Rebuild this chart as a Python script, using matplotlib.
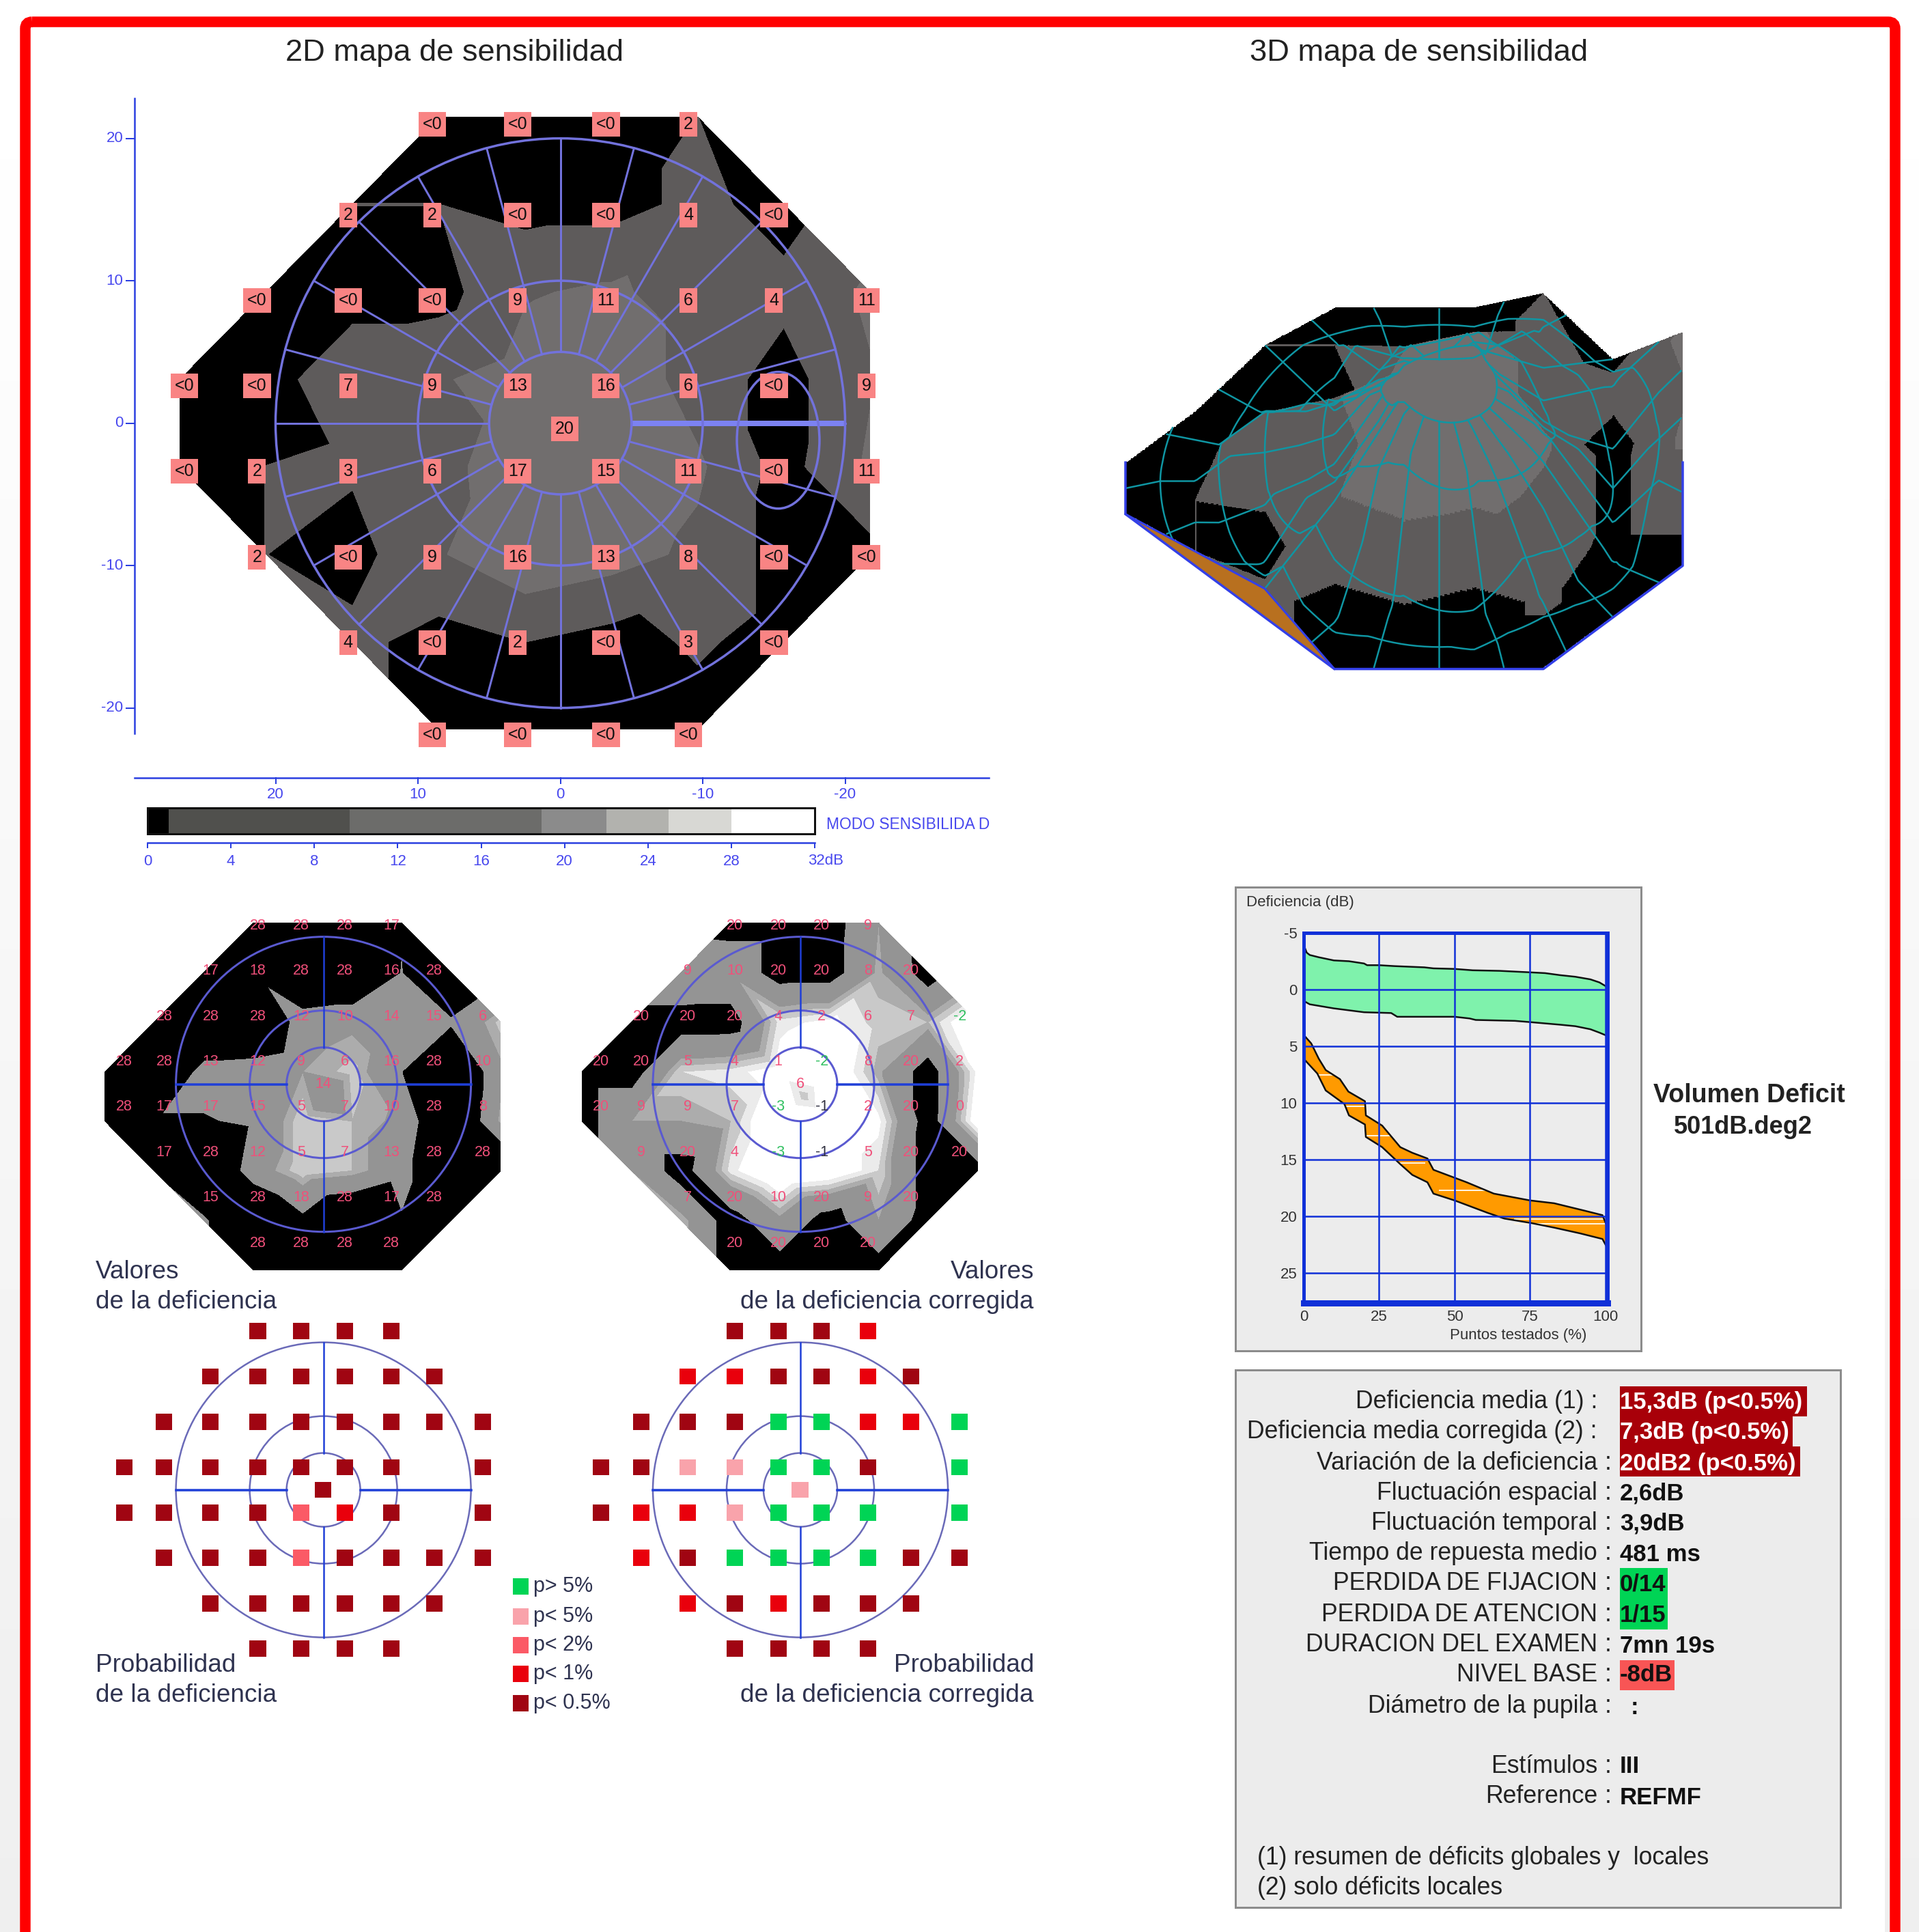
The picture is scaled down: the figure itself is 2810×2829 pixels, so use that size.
import numpy as np
import matplotlib
matplotlib.use('Agg')
import matplotlib.pyplot as plt
import matplotlib.tri as mtri
from matplotlib.colors import BoundaryNorm, ListedColormap
from matplotlib.patches import Circle, Ellipse, Rectangle, FancyBboxPatch

W, H = 2810, 2829
DPI = 100

# test points, one list per row, top row first (x in degrees, positive on the left)
row_y = [21, 15, 9, 3, -3, -9, -15, -21]
row_x = [
    [9, 3, -3, -9],
    [15, 9, 3, -3, -9, -15],
    [21, 15, 9, 3, -3, -9, -15, -21],
    [27, 21, 15, 9, 3, -3, -9, -15, -21],
    [27, 21, 15, 9, 3, -3, -9, -15, -21],
    [21, 15, 9, 3, -3, -9, -15, -21],
    [15, 9, 3, -3, -9, -15],
    [9, 3, -3, -9],
]
# -1 means "<0" on the sensitivity map
sensitivity = [
    [-1, -1, -1, 2],
    [2, 2, -1, -1, 4, -1],
    [-1, -1, -1, 9, 11, 6, 4, 11],
    [-1, -1, 7, 9, 13, 16, 6, -1, 9],
    [-1, 2, 3, 6, 17, 15, 11, -1, 11],
    [2, -1, 9, 16, 13, 8, -1, -1],
    [4, -1, 2, -1, 3, -1],
    [-1, -1, -1, -1],
]
sensitivity_center = 20
deficit = [
    [28, 28, 28, 17],
    [17, 18, 28, 28, 16, 28],
    [28, 28, 28, 12, 10, 14, 15, 6],
    [28, 28, 13, 12, 9, 6, 16, 28, 10],
    [28, 17, 17, 15, 5, 7, 10, 28, 8],
    [17, 28, 12, 5, 7, 13, 28, 28],
    [15, 28, 18, 28, 17, 28],
    [28, 28, 28, 28],
]
deficit_center = 14
corrected = [
    [20, 20, 20, 9],
    [9, 10, 20, 20, 8, 20],
    [20, 20, 20, 4, 2, 6, 7, -2],
    [20, 20, 5, 4, 1, -2, 8, 20, 2],
    [20, 9, 9, 7, -3, -1, 2, 20, 0],
    [9, 20, 4, -3, -1, 5, 20, 20],
    [7, 20, 10, 20, 9, 20],
    [20, 20, 20, 20],
]
corrected_center = 6

# probability classes: 0 p>5, 1 p<5, 2 p<2, 3 p<1, 4 p<0.5, None for the blind spot
prob_deficit = [
    [4, 4, 4, 4],
    [4, 4, 4, 4, 4, 4],
    [4, 4, 4, 4, 4, 4, 4, 4],
    [4, 4, 4, 4, 4, 4, 4, None, 4],
    [4, 4, 4, 4, 2, 3, 4, None, 4],
    [4, 4, 4, 2, 4, 4, 4, 4],
    [4, 4, 4, 4, 4, 4],
    [4, 4, 4, 4],
]
prob_deficit_center = 4
prob_corrected = [
    [4, 4, 4, 3],
    [3, 3, 4, 4, 3, 4],
    [4, 4, 4, 0, 0, 3, 3, 0],
    [4, 4, 1, 1, 0, 0, 4, None, 0],
    [4, 3, 3, 1, 0, 0, 0, None, 0],
    [3, 4, 0, 0, 0, 0, 4, 4],
    [3, 4, 3, 4, 4, 4],
    [4, 4, 4, 4],
]
prob_corrected_center = 1
prob_colors = ['#00d455', '#f9a3ab', '#fb5a66', '#e9000c', '#a00512']
prob_labels = ['p> 5%', 'p< 5%', 'p< 2%', 'p< 1%', 'p< 0.5%']

# grey scale of the sensitivity map
scale_levels = [0, 1, 9.7, 18.9, 22, 25, 28, 32]
scale_colors = ['#000000', '#50504d', '#6c6c6a', '#8b8b8b', '#b2b2ae', '#d8d8d4', '#ffffff']
field_levels = [-2, 1.95, 9.7, 20.5, 22, 25, 28, 33]
field_colors = ['#000000', '#5e5b5b', '#716e6e', '#858383', '#b2b2ae', '#d8d8d4', '#ffffff']
deficit_levels = [-6, 3, 5, 7, 9, 16.4, 30]
deficit_colors = ['#ffffff', '#ebebeb', '#c9c9c9', '#acacac', '#949494', '#000000']

# deficit curve
upper_x = [0, 1, 2, 5, 10, 15, 20, 21, 25, 30, 40, 43, 50, 56, 65, 75, 80, 85, 90, 95, 98, 100.7]
upper_y = [-3.95, -3.26, -3.05, -2.85, -2.57, -2.5, -2.3, -2.15, -2.15, -2.07, -1.96, -1.87, -1.82, -1.7, -1.65, -1.52, -1.45, -1.27, -1.13, -0.9, -0.63, -0.2]
lower_x = [0, 2, 10, 20, 29, 31, 45, 50, 55, 57, 70, 75, 85, 90, 95, 98, 100.7]
lower_y = [1.0, 1.3, 1.66, 2.0, 2.07, 2.4, 2.4, 2.4, 2.55, 2.68, 2.76, 2.87, 3.1, 3.23, 3.5, 3.8, 4.1]
def_top_x = [0, 2.5, 5, 7.3, 12, 14.8, 20.3, 20.6, 26, 32, 36, 41, 43, 50, 54, 63, 75, 83, 93, 99, 100.7]
def_top_y = [4.0, 4.75, 6.1, 7.1, 7.9, 9.0, 9.85, 11.1, 12.0, 13.9, 14.4, 14.9, 15.9, 16.6, 17, 18, 18.6, 18.85, 19.5, 19.9, 21]
def_low_x = [0, 4.5, 7.3, 13.5, 15, 20.3, 20.6, 26, 32, 36, 41, 43, 50, 61, 66.5, 75.5, 83, 91.5, 99, 100.7]
def_low_y = [6.1, 7.4, 8.9, 10.1, 11.1, 11.9, 13, 13.9, 15.4, 16.35, 17, 18, 18.6, 19.7, 20.2, 20.6, 21, 21.5, 22, 22.85]
streak_x0 = [5, 14, 21, 32, 45, 70, 70]
streak_x1 = [10, 20, 29, 40, 60, 100, 100]
streak_y = [7.5, 10.3, 12.9, 15.3, 17.7, 20.25, 20.65]

# summary table
info_labels = ['Deficiencia media (1) :', 'Deficiencia media corregida (2) :', 'Variación de la deficiencia',
               'Fluctuación espacial', 'Fluctuación temporal', 'Tiempo de repuesta medio', 'PERDIDA DE FIJACION',
               'PERDIDA DE ATENCION', 'DURACION DEL EXAMEN', 'NIVEL BASE', 'Diámetro de la pupila',
               'Estímulos', 'Reference']
info_values = ['15,3dB (p<0.5%)', '7,3dB (p<0.5%)', '20dB2 (p<0.5%)', '2,6dB', '3,9dB', '481 ms', '0/14', '1/15',
               '7mn 19s', '-8dB', ':', 'III', 'REFMF']
info_y = [2053, 2097, 2142, 2186, 2230, 2275, 2319, 2364, 2409, 2452, 2499, 2586, 2631]

plt.rcParams['font.family'] = ['Liberation Sans', 'DejaVu Sans']
BLUE_TXT = '#4848ee'
BLUE_AX = '#2a3fe0'
NAVY = '#2f3350'

# where the small panels really put the columns
col_grid = [-21, -15, -9, -3, 3, 9, 15, 21, 27]
col_small = [-21.6, -15, -9.2, -2.9, 3, 8.9, 15.3, 21.6, 27]


def lw(n):
    return n * 72.0 / DPI


def flat(rows, center):
    xs = [0.0]
    ys = [0.0]
    vals = [center]
    for y, xrow, vrow in zip(row_y, row_x, rows):
        for x, v in zip(xrow, vrow):
            xs.append(x)
            ys.append(y)
            vals.append(v)
    return np.array(xs, float), np.array(ys, float), vals


def add_px_axes(x0, y0, w, h):
    ax = fig.add_axes([x0 / W, 1 - (y0 + h) / H, w / W, h / H])
    return ax


def map_axes(cx, cy, scale, half):
    ax = add_px_axes(cx - half * scale, cy - half * scale, 2 * half * scale, 2 * half * scale)
    ax.set_xlim(half, -half)
    ax.set_ylim(-half, half)
    ax.axis('off')
    ax.patch.set_alpha(0)
    return ax


def rings(ax, radii, color, width):
    for r in radii:
        ax.add_patch(Circle((0, 0), r, fill=False, ec=color, lw=lw(width), zorder=3))


fig = plt.figure(figsize=(W / DPI, H / DPI), dpi=DPI, facecolor='white')
page = fig.add_axes([0, 0, 1, 1])
page.axis('off')

# outer frame, the page behind it fades to light grey downwards
shade = np.linspace(1.0, 0.935, 256).reshape(-1, 1)
for x0, x1 in [(0, 30), (2783, W), (2760, 2767)]:
    page.imshow(shade, extent=(x0, x1, H, 60), cmap='gray', vmin=0, vmax=1, aspect='auto')
page.set_xlim(0, W)
page.set_ylim(H, 0)
page.add_patch(FancyBboxPatch((37, 32), 2738, 3000, boxstyle='round,pad=0,rounding_size=10', fc='none', ec='#ff0000', lw=lw(15.5)))

page.text(666, 77, '2D mapa de sensibilidad', fontsize=32.6, ha='center', va='center', color='#222222')
page.text(2078, 77, '3D mapa de sensibilidad', fontsize=32.6, ha='center', va='center', color='#222222')

# ---- 2D sensitivity map ----
px, py, pv = flat(sensitivity, sensitivity_center)
pv = np.array(pv, float)
cx, cy, scale = 820.5, 619.6, 20.85
ax = map_axes(cx, cy, scale, 34)
tri = mtri.Triangulation(1.0094 * px - 0.55, py * 1.024)
ax.tricontourf(tri, pv, levels=field_levels, colors=field_colors, zorder=1)

angles = np.deg2rad(np.arange(0, 360, 15))
for a in angles:
    ax.plot([5 * np.cos(a), 20 * np.cos(a)], [5 * np.sin(a), 20 * np.sin(a)], color='#7272dc', lw=lw(3), zorder=3)
ax.plot([-5, -20], [0, 0], color='#7c82f2', lw=lw(8), zorder=3, solid_capstyle='butt')
rings(ax, [5, 10, 20], '#7272dc', 3.5)
ax.add_patch(Ellipse((-15.3, -1.2), 5.8, 9.6, fill=False, ec='#7272dc', lw=lw(3.5), zorder=3))

label_x_px = [-21.5, -15, -9, -3.2, 3, 9, 14.9, 21.3, 26.4]
label_y_px = [21.0, 14.6, 8.6, 2.6, -3.4, -9.4, -15.4, -21.9]
box = dict(boxstyle='square,pad=0.24', fc='#f98484', ec='none')
for lab_y, xrow, vrow in zip(label_y_px, row_x, sensitivity):
    for x, v in zip(xrow, vrow):
        ax.text(np.interp(x, col_grid, label_x_px), lab_y, '<0' if v < 0 else str(v), fontsize=18, ha='center',
                va='center', color='#111111', zorder=5, bbox=box)
ax.text(-0.3, -0.4, str(sensitivity_center), fontsize=18, ha='center', va='center', color='#111111', zorder=5, bbox=box)

# axes of the map
ax.plot([29.9, 29.9], [22.8, -21.8], color=BLUE_AX, lw=lw(2.5), clip_on=False)
ax.plot([29.9, -30.1], [-24.9, -24.9], color=BLUE_AX, lw=lw(2.5), clip_on=False)
for t in [20, 10, 0, -10, -20]:
    ax.plot([29.9, 30.5], [t, t], color=BLUE_AX, lw=lw(2))
    ax.text(30.7, t, str(t), fontsize=16, color=BLUE_TXT, ha='right', va='center')
    ax.plot([t, t], [-24.9, -25.3], color=BLUE_AX, lw=lw(2))
    ax.text(t, -26.1, str(t), fontsize=16, color=BLUE_TXT, ha='center', va='center')

# grey scale bar
bar = add_px_axes(216, 1183, 977, 38)
bar.set_xlim(0, 32)
bar.set_ylim(0, 1)
bar.barh(0.5, np.diff(scale_levels), left=scale_levels[:-1], height=1, color=scale_colors)
bar.set_yticks([])
bar.set_xticks([])
for s in bar.spines.values():
    s.set_linewidth(lw(3))
    s.set_color('#111111')
sec = bar.secondary_xaxis(-0.34)
sec.set_xticks(np.arange(0, 33, 4))
sec.set_xticklabels(['0', '4', '8', '12', '16', '20', '24', '28', ''], fontsize=16, color=BLUE_TXT)
sec.tick_params(axis='x', colors=BLUE_AX, length=6, width=lw(2), labelcolor=BLUE_TXT, pad=6)
sec.spines['bottom'].set_color(BLUE_AX)
sec.spines['bottom'].set_linewidth(lw(2.5))
page.text(1183, 1260, '32dB', fontsize=16, color=BLUE_TXT, ha='left', va='center')
page.text(1210, 1207, 'MODO SENSIBILIDA D', fontsize=16.4, color=BLUE_TXT, ha='left', va='center')

# ---- 3D view ----
c3x, c3y, sx, sy, sz = 2107.0, 715.0, 17.0, 12.6, 10.5


def project(x, y, z):
    return c3x - sx * np.asarray(x), c3y - sy * np.asarray(y) - sz * np.asarray(z)


ax3 = add_px_axes(1600, 380, 900, 640)
ax3.set_xlim(1600, 2500)
ax3.set_ylim(1020, 380)
ax3.axis('off')
ax3.patch.set_alpha(0)

height = np.clip(pv, 0, None)
tri3 = mtri.Triangulation(px, py)
surf = mtri.LinearTriInterpolator(tri3, height)
sens_surf = mtri.LinearTriInterpolator(tri3, pv)
gx, gy = np.meshgrid(np.linspace(27, -21, 620), np.linspace(21, -21, 420))
gz = surf(gx, gy)
gs = sens_surf(gx, gy)
PX, PY = project(gx, gy, gz.filled(0))
outside = np.ma.getmaskarray(gz)
cell_out = outside[:-1, :-1] | outside[1:, :-1] | outside[:-1, 1:] | outside[1:, 1:]
cells = np.ma.array(gs[:-1, :-1].filled(0), mask=cell_out)

# wall under the raised lower left edge
edge_x = [27, 21, 15, 9]
edge_y = [-3, -9, -15, -21]
edge_z = [0, 2, 4, 0]
bx, by = project(edge_x, edge_y, [0, 0, 0, 0])
tx, ty = project(edge_x, edge_y, edge_z)
ax3.fill(np.r_[bx, tx[::-1]], np.r_[by, ty[::-1]], color='#b8701f', zorder=1)
ax3.pcolormesh(PX, PY, cells, cmap=ListedColormap(field_colors), norm=BoundaryNorm(field_levels, len(field_colors)), zorder=2)

for a in angles:
    r = np.linspace(5, 34, 120)
    lx = r * np.cos(a)
    ly = r * np.sin(a)
    lz = surf(lx, ly)
    qx, qy = project(lx, ly, lz.filled(np.nan))
    ax3.plot(qx, qy, color='#0f96a3', lw=lw(2.5), zorder=3)
for r0 in [5, 10, 15, 19, 24]:
    t = np.linspace(0, 2 * np.pi, 360)
    lx = r0 * np.cos(t)
    ly = r0 * np.sin(t)
    lz = surf(lx, ly)
    qx, qy = project(lx, ly, lz.filled(np.nan))
    ax3.plot(qx, qy, color='#0f96a3', lw=lw(2.5), zorder=3)

base_x = [-21, -21, -15, -9, 9, 15, 21, 27, 27]
base_y = [3, -9, -15, -21, -21, -15, -9, -3, 3]
qx, qy = project(base_x, base_y, np.zeros(9))
ax3.plot(qx, qy, color='#3340e8', lw=lw(3.5), zorder=4)
ax3.plot(tx, ty, color='#3340e8', lw=lw(3), zorder=4)

# ---- deficit maps ----
for cx2, rows, center in [(473.6, deficit, deficit_center), (1172, corrected, corrected_center)]:
    dx, dy, dv = flat(rows, center)
    ax = map_axes(cx2, 1587.7, 10.8, 34)
    ax.tricontourf(mtri.Triangulation(1.117 * dx - 0.55, 1.12 * dy - 1.65), np.array(dv, float), levels=deficit_levels,
                   colors=deficit_colors, zorder=1)
    rings(ax, [5, 10, 20], '#5a5ad0', 3)
    for a, b in [(5, 20), (-5, -20)]:
        ax.plot([a, b], [0, 0], color='#1f3fd8', lw=lw(3.5), zorder=3)
        ax.plot([0, 0], [a, b], color='#1f3fd8', lw=lw(2.5), zorder=3)
    for x, y, v in zip(np.interp(dx, col_grid, col_small), dy * 1.025, dv):
        c = '#f0507a'
        if v < -1:
            c = '#30c060'
        elif v == -1:
            c = '#303040'
        ax.text(x, y - (0.4 if x == 0 and y == 0 else 0), str(v), fontsize=15.5, ha='center', va='center', color=c, zorder=5)

# ---- probability maps ----
for cx2, rows, center in [(473.6, prob_deficit, prob_deficit_center), (1172, prob_corrected, prob_corrected_center)]:
    ax = map_axes(cx2, 2181.6, 10.8, 34)
    rings(ax, [5, 10, 20], '#6a6ab8', 2.5)
    for a, b in [(5, 20), (-5, -20)]:
        ax.plot([a, b], [0, 0], color='#1f3fd8', lw=lw(3.5), zorder=3)
        ax.plot([0, 0], [a, b], color='#1f3fd8', lw=lw(2.5), zorder=3)
    dx, dy, dv = flat(rows, center)
    for x, y, v in zip(np.interp(dx, col_grid, col_small), dy * 1.025, dv):
        if v is None:
            continue
        ax.add_patch(Rectangle((x + 1.12, y - 1.1), -2.24, 2.2, fc=prob_colors[v], ec='none', zorder=4))

for y, c, s in zip([2323, 2367, 2409, 2451, 2494], prob_colors, prob_labels):
    page.add_patch(Rectangle((751, y - 12), 23, 24, fc=c, ec='none'))
    page.text(781, y, s, fontsize=22, color=NAVY, ha='left', va='center')

for y, s in [(1862, 'Valores'), (1906, 'de la deficiencia'), (2439, 'Probabilidad'), (2482, 'de la deficiencia')]:
    page.text(140, y, s, fontsize=26.6, color=NAVY, ha='left', va='center')
for y, s in [(1862, 'Valores'), (1906, 'de la deficiencia corregida'), (2439, 'Probabilidad'), (2482, 'de la deficiencia corregida')]:
    page.text(1514, y, s, fontsize=26.6, color=NAVY, ha='right', va='center')

# ---- deficit curve ----
page.add_patch(Rectangle((1809, 1299), 594, 679, fc='#ececec', ec='#8c8c8c', lw=lw(3)))
cv = add_px_axes(1909, 1366, 445, 542)
cv.set_xlim(0, 100.7)
cv.set_ylim(27.65, -5)
cv.set_facecolor('#ececec')
cv.fill(np.r_[upper_x, lower_x[::-1]], np.r_[upper_y, lower_y[::-1]], color='#7ff2ac', zorder=1)
cv.fill(np.r_[def_top_x, def_low_x[::-1]], np.r_[def_top_y, def_low_y[::-1]], color='#ff9a00', zorder=1)
for a, b, y in zip(streak_x0, streak_x1, streak_y):
    cv.plot([a, b], [y, y], color='#fff4e0', lw=lw(2), zorder=1.5)
for xs, ys in [(upper_x, upper_y), (lower_x, lower_y), (def_top_x, def_top_y), (def_low_x, def_low_y)]:
    cv.plot(xs, ys, color='#111111', lw=lw(2.5), zorder=2)
cv.set_xticks([0, 25, 50, 75, 100])
cv.set_xticklabels(['0', '25', '50', '75', '100'], fontsize=16, color='#333333')
cv.set_yticks([-5, 0, 5, 10, 15, 20, 25])
cv.set_yticklabels(['-5', '0', '5', '10', '15', '20', '25'], fontsize=16, color='#333333')
cv.tick_params(length=0, pad=7)
cv.set_axisbelow(False)
cv.grid(True, color='#1030d8', lw=lw(2.5), zorder=3)
for n, s in cv.spines.items():
    s.set_color('#1030d8')
    s.set_linewidth(lw(9 if n == 'bottom' else 5))
page.text(1825, 1322, 'Deficiencia (dB)', fontsize=16, color='#333333', ha='left', va='center')
page.text(2223, 1956, 'Puntos testados (%)', fontsize=16, color='#333333', ha='center', va='center')

page.text(2561, 1604, 'Volumen Deficit', fontsize=27, fontweight='bold', color='#222222', ha='center', va='center')
page.text(2552, 1650, '501dB.deg2', fontsize=26, fontweight='bold', color='#222222', ha='center', va='center')

# ---- summary table ----
page.add_patch(Rectangle((1809, 2006), 886, 787, fc='#ececec', ec='#8c8c8c', lw=lw(3)))
for x0, y0, w, h, c in [(2372, 2030, 274, 44, '#a80009'), (2372, 2074, 253, 44, '#a80009'), (2372, 2118, 264, 44, '#a80009'),
                        (2372, 2296, 70, 90, '#00d455'), (2372, 2431, 80, 44, '#f85555')]:
    page.add_patch(Rectangle((x0, y0), w, h, fc=c, ec='none'))
for i, (lab, val, y) in enumerate(zip(info_labels, info_values, info_y)):
    page.text(2339, y, lab, fontsize=25.7, color='#222222', ha='right', va='center')
    if i > 1:
        page.text(2355, y, ':', fontsize=25.7, color='#222222', ha='center', va='center')
    col = 'white' if i < 3 else '#111111'
    vx = 2372 if val != ':' else 2388
    page.text(vx, y + 1, val, fontsize=25, fontweight='bold', color=col, ha='left', va='center')
page.text(1841, 2721, '(1) resumen de déficits globales y  locales', fontsize=25.6, color='#222222', ha='left', va='center')
page.text(1841, 2765, '(2) solo déficits locales', fontsize=25.6, color='#222222', ha='left', va='center')

fig.savefig('out.png', dpi=DPI)
